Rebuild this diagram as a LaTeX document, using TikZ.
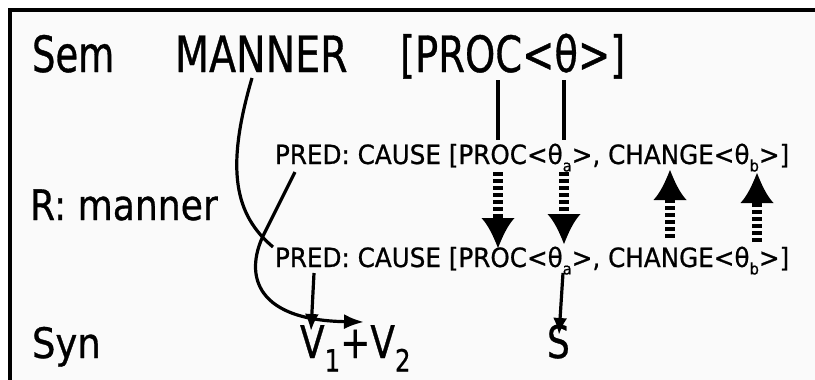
\documentclass[tikz,border=0pt]{standalone}
\usepackage{fontspec}
\setmainfont{DejaVu Sans}
\newfontfamily\heavyfont{DejaVu Sans}[FakeBold=0.8]
\usetikzlibrary{arrows.meta}
\newcommand\hsc[2]{\scalebox{#1}[1]{#2}}
\newcommand\subsc[1]{\raisebox{-0.28em}{\scalebox{0.6}{#1}}}
\newcommand\bigsub[1]{\raisebox{-0.3em}{\scalebox{0.68}{#1}}}
\definecolor{bgin}{RGB}{250,250,250}
\begin{document}
\begin{tikzpicture}[x=1pt,y=-1pt,
  lbl/.style={anchor=base west,inner sep=0pt,outer sep=0pt},
  bigtxt/.style={lbl,font=\heavyfont\fontsize{50}{60}\selectfont},
  midtxt/.style={lbl,font=\heavyfont\fontsize{42}{50}\selectfont},
  predtxt/.style={lbl,font=\heavyfont\fontsize{26.5}{32}\selectfont},
  conn/.style={line width=3.2pt},
  smallarrow/.style={line width=3.2pt,-{Latex[length=17pt,width=14pt]}},
  dashshaft/.style={line width=10pt,dash pattern=on 4pt off 3pt},
  headdown/.pic={\fill (0,0) .. controls (4,-10) and (9,-22) .. (16.5,-30) -- (-16.5,-30) .. controls (-9,-22) and (-4,-10) .. (0,0) -- cycle;},
  headup/.pic={\fill (0,0) .. controls (4,10) and (9,22) .. (16.5,30) -- (-16.5,30) .. controls (-9,22) and (-4,10) .. (0,0) -- cycle;}
]
\useasboundingbox (0,0) rectangle (815,380);
\fill[white] (0,0) rectangle (815,380);
\fill[bgin] (10,10) rectangle (815,380);
\draw[line width=3.5pt] (10,385) -- (10,10) -- (820,10);

% labels
\node[bigtxt] (sem) at (32,72) {\hsc{0.74}{Sem}};
\node[bigtxt] (manner) at (175,72) {\hsc{0.79}{MANNER}};
\node[bigtxt] (proc) at (400,72) {\hsc{0.77}{[PROC<θ>]}};
\node[predtxt] (pred1) at (275,164) {\hsc{0.93}{PRED: CAUSE [PROC<θ\subsc{a}>, CHANGE<θ\subsc{b}>]}};
\node[midtxt] (rman) at (30,220) {\hsc{0.86}{R: manner}};
\node[predtxt] (pred2) at (275,267) {\hsc{0.93}{PRED: CAUSE [PROC<θ\subsc{a}>, CHANGE<θ\subsc{b}>]}};
\node[midtxt] (syn) at (32,358) {\hsc{0.88}{Syn}};
\node[bigtxt,font=\heavyfont\fontsize{45}{54}\selectfont] (vv) at (300,358) {\hsc{0.8}{V\bigsub{1}+V\bigsub{2}}};
\node[bigtxt,font=\heavyfont\fontsize{45}{54}\selectfont] (s) at (547,358) {\hsc{0.8}{S}};

% named connection points
\coordinate (mannerB) at (252,78);
\coordinate (procC) at (498,80);
\coordinate (procT) at (564,80);
\coordinate (p1C) at (498,140);
\coordinate (p1T) at (564,140);
\coordinate (p1Cb) at (498,172);
\coordinate (p1Tb) at (564,172);
\coordinate (p2Ct) at (498,248);
\coordinate (p2Ctb) at (498,219);
\coordinate (p2Tt) at (564,244);
\coordinate (p2Ttb) at (564,215);
\coordinate (p2Nb) at (670,238);
\coordinate (p1Nt) at (670,170);
\coordinate (p1Ntb) at (670,199);
\coordinate (p2Bb) at (757,242);
\coordinate (p1Bt) at (757,173);
\coordinate (p1Btb) at (757,202);
\coordinate (p1P) at (295,172);
\coordinate (cross) at (265,232);
\coordinate (p2Pin) at (273,247);
\coordinate (vvTip) at (364,322);
\coordinate (p2Pb) at (314,273);
\coordinate (vvTop) at (311,331);
\coordinate (p2Tb) at (563,273);
\coordinate (sTop) at (559,335);

% connectors
\draw[conn] (procC) -- (p1C);
\draw[conn] (procT) -- (p1T);
\draw[dashshaft] (p1Cb) -- (p2Ctb);
\pic at (p2Ct) {headdown};
\draw[dashshaft] (p1Tb) -- (p2Ttb);
\pic at (p2Tt) {headdown};
\draw[dashshaft] (p2Nb) -- (p1Ntb);
\pic at (p1Nt) {headup};
\draw[dashshaft] (p2Bb) -- (p1Btb);
\pic at (p1Bt) {headup};
\draw[conn] (mannerB) .. controls (225,170) and (235,215) .. (p2Pin);
\draw[conn,-{Latex[length=20pt,width=15pt]}] (p1P) -- (cross) .. controls (245,270) and (250,320) .. (vvTip);
\draw[smallarrow] (p2Pb) -- (vvTop);
\draw[smallarrow] (p2Tb) -- (sTop);
\end{tikzpicture}
\end{document}
